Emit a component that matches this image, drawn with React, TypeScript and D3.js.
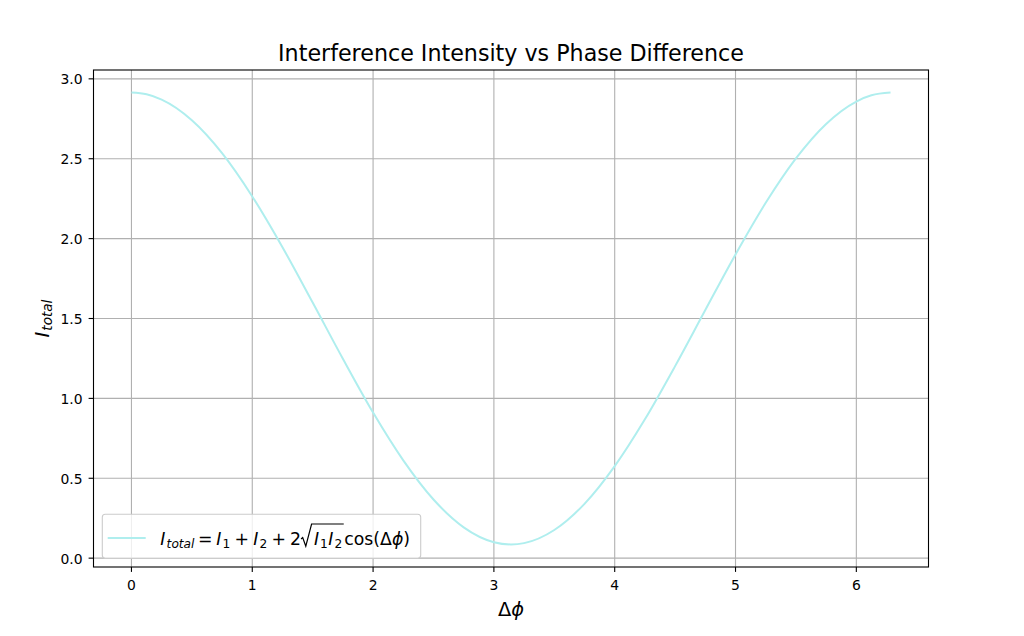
import React, { useEffect, useRef } from "react";
import * as d3 from "d3";

// Phase difference samples (rad) and total intensity
const phase = [
  0, 0.125, 0.25, 0.5, 0.75, 1.0, 1.25, 1.5, 1.75, 2.0, 2.25, 2.5, 2.75, 3.0, 3.1416,
  3.25, 3.5, 3.75, 4.0, 4.25, 4.5, 4.75, 5.0, 5.25, 5.5, 5.75, 6.0, 6.125, 6.2832,
];
const intensity = [
  2.914, 2.903, 2.87, 2.741, 2.535, 2.264, 1.946, 1.6, 1.248, 0.911, 0.612, 0.367, 0.193,
  0.1, 0.086, 0.094, 0.176, 0.34, 0.576, 0.869, 1.202, 1.553, 1.901, 2.224, 2.502,
  2.718, 2.858, 2.897, 2.914,
];
const xTicks = [0, 1, 2, 3, 4, 5, 6];
const yTicks = [0, 0.5, 1.0, 1.5, 2.0, 2.5, 3.0];
const titleText = "Interference Intensity vs Phase Difference";

const W = 1024;
const H = 636;
const FONT = "DejaVu Sans";
const LINE_COLOR = "#afeeee";

export default function App() {
  const ref = useRef<SVGSVGElement>(null);

  useEffect(() => {
    const svg = d3.select(ref.current as SVGSVGElement);
    svg.selectAll("*").remove();

    const left = 93.5, right = 928.5, top = 70, bottom = 567;
    const xMin = d3.min(phase)!, xMax = d3.max(phase)!;
    const xs = xMax - xMin;
    const yMin = d3.min(intensity)!, yMax = d3.max(intensity)!;
    const ys = yMax - yMin;
    const x = d3.scaleLinear().domain([xMin - 0.05 * xs, xMax + 0.05 * xs]).range([left, right]);
    const y = d3.scaleLinear().domain([yMin - 0.05 * ys, yMax + 0.05 * ys]).range([bottom, top]);

    svg.append("rect").attr("width", W).attr("height", H).attr("fill", "white");

    // grid
    const grid = svg.append("g").attr("stroke", "#b0b0b0").attr("stroke-width", 1.1);
    xTicks.forEach((t) => {
      grid.append("line").attr("x1", x(t)).attr("x2", x(t)).attr("y1", top).attr("y2", bottom);
    });
    yTicks.forEach((t) => {
      grid.append("line").attr("x1", left).attr("x2", right).attr("y1", y(t)).attr("y2", y(t));
    });

    // curve
    const line = d3
      .line<number>()
      .x((_, i) => x(phase[i]))
      .y((d) => y(d))
      .curve(d3.curveMonotoneX);
    svg
      .append("path")
      .attr("d", line(intensity)!)
      .attr("fill", "none")
      .attr("stroke", LINE_COLOR)
      .attr("stroke-width", 2);

    // spines
    svg
      .append("rect")
      .attr("x", left)
      .attr("y", top)
      .attr("width", right - left)
      .attr("height", bottom - top)
      .attr("fill", "none")
      .attr("stroke", "black")
      .attr("stroke-width", 1.1);

    // ticks
    const tk = svg.append("g").attr("stroke", "black").attr("stroke-width", 1.1);
    const lbl = svg.append("g").attr("font-family", FONT).attr("font-size", 13.9).attr("fill", "#000");
    xTicks.forEach((t) => {
      tk.append("line").attr("x1", x(t)).attr("x2", x(t)).attr("y1", bottom).attr("y2", bottom + 4.9);
      lbl.append("text").attr("x", x(t)).attr("y", bottom + 22.5).attr("text-anchor", "middle").text(String(t));
    });
    yTicks.forEach((t) => {
      tk.append("line").attr("x1", left - 4.9).attr("x2", left).attr("y1", y(t)).attr("y2", y(t));
      lbl.append("text").attr("x", left - 11).attr("y", y(t) + 5.5).attr("text-anchor", "end").text(t.toFixed(1));
    });

    // title
    svg
      .append("text")
      .attr("x", (left + right) / 2)
      .attr("y", 61)
      .attr("text-anchor", "middle")
      .attr("font-family", FONT)
      .attr("font-size", 22.2)
      .attr("fill", "#000")
      .text(titleText);

    // x label
    const xl = svg
      .append("text")
      .attr("x", (left + right) / 2)
      .attr("y", 616)
      .attr("text-anchor", "middle")
      .attr("font-family", FONT)
      .attr("font-size", 19.4)
      .attr("fill", "#000");
    xl.append("tspan").text("Δ");
    xl.append("tspan").attr("font-style", "italic").text("ϕ");

    // y label
    const yl = svg
      .append("text")
      .attr("transform", `translate(48.5,${(top + bottom) / 2}) rotate(-90)`)
      .attr("text-anchor", "middle")
      .attr("font-family", FONT)
      .attr("font-size", 19.4)
      .attr("font-style", "italic")
      .attr("fill", "#000");
    yl.append("tspan").text("I");
    yl.append("tspan").attr("font-size", 13.6).attr("dy", 3.5).attr("dx", 1).text("total");

    // legend
    const leg = svg.append("g");
    const box = leg
      .append("rect")
      .attr("x", 102.3)
      .attr("y", 514.3)
      .attr("height", 44)
      .attr("rx", 3)
      .attr("fill", "white")
      .attr("fill-opacity", 0.8)
      .attr("stroke", "#cccccc")
      .attr("stroke-width", 1.1);
    leg
      .append("line")
      .attr("x1", 107.7)
      .attr("x2", 145.7)
      .attr("y1", 538)
      .attr("y2", 538)
      .attr("stroke", LINE_COLOR)
      .attr("stroke-width", 2);

    const fs = 17.3, sfs = 12.2, base = 545, subDy = 3;
    let cx = 160.3;
    const tg = leg.append("g").attr("font-family", FONT).attr("fill", "#000");
    const piece = (s: string, italic = false, sub = false) => {
      const t = tg
        .append("text")
        .attr("x", cx)
        .attr("y", base + (sub ? subDy : 0))
        .attr("font-size", sub ? sfs : fs)
        .attr("font-style", italic ? "italic" : "normal")
        .text(s);
      cx += (t.node() as SVGTextElement).getComputedTextLength();
    };
    const gap = (g: number) => {
      cx += g;
    };
    piece("I", true);
    gap(1.2);
    piece("total", true, true);
    gap(3.6);
    piece("=");
    gap(3.6);
    piece("I", true);
    gap(1.2);
    piece("1", false, true);
    gap(4.2);
    piece("+");
    gap(4.2);
    piece("I", true);
    gap(1.2);
    piece("2", false, true);
    gap(4.2);
    piece("+");
    gap(4.2);
    piece("2");
    // radical
    const r0 = cx;
    const ov = 524;
    cx = r0 + 12.8;
    piece("I", true);
    gap(1.0);
    piece("1", false, true);
    gap(0.6);
    piece("I", true);
    gap(1.0);
    piece("2", false, true);
    const rEnd = cx + 1.5;
    leg
      .append("path")
      .attr(
        "d",
        `M${r0},${base - 6} L${r0 + 1.6},${base - 7.4} L${r0 + 4.7},${base + 1.2} L${r0 + 10.5},${ov} H${rEnd}`
      )
      .attr("fill", "none")
      .attr("stroke", "#000")
      .attr("stroke-width", 1.2)
      .attr("stroke-linejoin", "miter");
    cx = rEnd + 0.5;
    piece("cos");
    piece("(Δ");
    piece("ϕ", true);
    piece(")");
    box.attr("width", Math.max(cx + 10, 420.7) - 102.3);
  }, []);

  return (
    <div style={{ position: "fixed", left: 0, top: 0 }}>
      <svg ref={ref} width={W} height={H} style={{ display: "block" }} />
    </div>
  );
}
